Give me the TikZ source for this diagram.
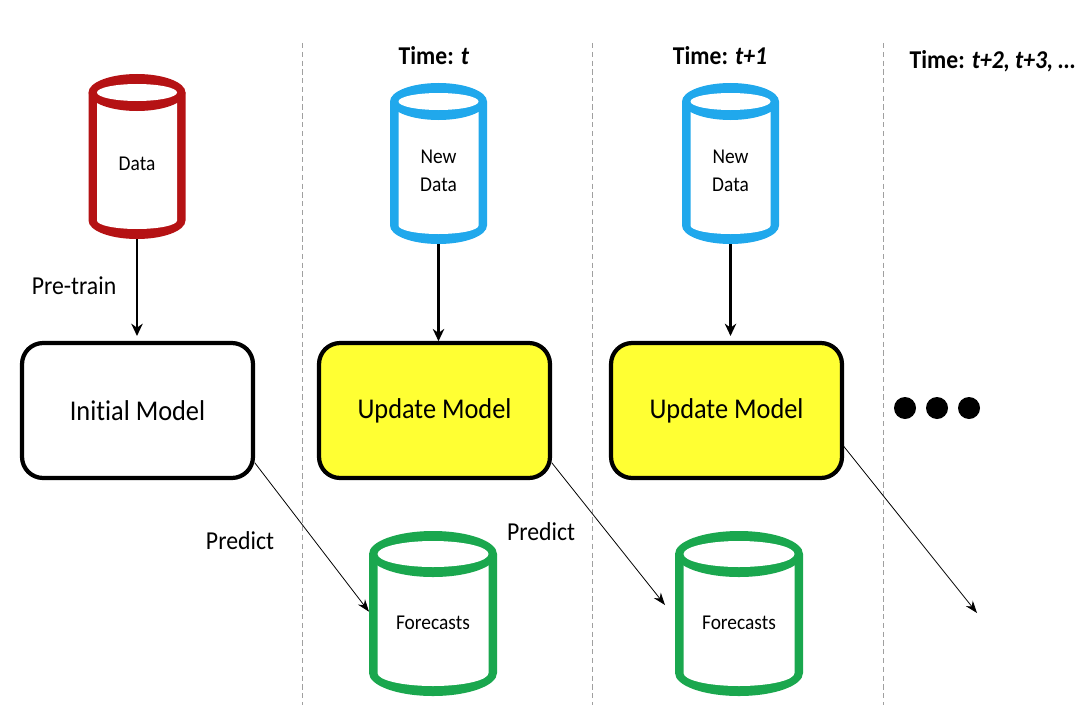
\documentclass[tikz,border=0pt]{standalone}
\usepackage{fontspec}
\setmainfont[FakeStretch=0.92,Ligatures=NoCommon]{Carlito}
\usepackage{xcolor}
\definecolor{candata}{RGB}{181,18,20}
\definecolor{cannew}{RGB}{32,168,236}
\definecolor{canfc}{RGB}{26,167,78}
\definecolor{modelyellow}{RGB}{255,255,51}
\definecolor{sepgray}{RGB}{160,160,160}
\usetikzlibrary{arrows.meta}
% name, x, y top ellipse, y bottom ellipse, rx, ry, colour, text
\newcommand{\datacan}[8]{
  \fill[#7] (#2-#5,#3) -- (#2-#5,#4) arc[start angle=180,end angle=0,x radius=#5,y radius=#6] -- (#2+#5,#3) -- cycle;
  \fill[white] (#2-#5+8.5,#3) -- (#2-#5+8.5,#4) arc[start angle=180,end angle=0,x radius={#5-8.5},y radius={#6-10}] -- (#2+#5-8.5,#3) -- cycle;
  \fill[#7] (#2,#3) ellipse[x radius=#5,y radius=#6];
  \fill[white] (#2,#3) ellipse[x radius={#5-8.5},y radius={#6-10}];
  \node[cantext,minimum width={2*#5*0.02cm},minimum height={(#4+#6+4-#3)*0.02cm}] (#1) at (#2,{(#3-4+#4+#6)/2}) {#8};
}
\tikzset{
  cantext/.style={inner sep=0pt,outer sep=0pt,align=center,font=\fontsize{12}{16}\selectfont},
  modelbox/.style={draw=black,line width=2.4pt,rounded corners=12pt,minimum width=4.62cm,minimum height=2.7cm,inner sep=0pt,outer sep=1pt,font=\fontsize{16.3}{19}\selectfont},
  steplabel/.style={inner sep=0pt,font=\fontsize{14.7}{17}\selectfont},
  timelabel/.style={inner sep=0pt,font=\fontsize{14.6}{17}\selectfont\bfseries},
  feed/.style={line width=1.6pt,-{Stealth[length=7pt,width=6.5pt]}},
  fcast/.style={line width=0.45pt,-{Stealth[length=7pt,width=5pt]}},
  septick/.style={sepgray,line width=0.5pt,dash pattern=on 3pt off 2pt},
}
\begin{document}
\begin{tikzpicture}[x=0.02cm,y=-0.02cm]
\useasboundingbox (0,0) rectangle (1077,723);
% ---- column separators ----
\draw[septick] (302,43) -- (302,705);
\draw[septick] (592,43) -- (592,705);
\draw[septick] (883,43) -- (883,705);
% ---- cans ----
\datacan{data}{137}{92.5}{220.5}{48.5}{18.5}{candata}{Data}
\datacan{newA}{438.5}{101.5}{225.5}{48.5}{18.5}{cannew}{New\\Data}
\datacan{newB}{730.5}{101.5}{225.5}{48.5}{18.5}{cannew}{New\\Data}
\datacan{fcA}{433}{554}{673}{64}{23}{canfc}{Forecasts}
\datacan{fcB}{739}{554}{673}{64}{23}{canfc}{Forecasts}
% ---- models ----
\node[modelbox] (init) at (137.5,410.5) {Initial Model};
\node[modelbox,fill=modelyellow] (updA) at (434.5,410.5) {Update Model};
\node[modelbox,fill=modelyellow] (updB) at (726.5,410.5) {Update Model};
% ---- texts ----
\node[timelabel] (timeA) at (434,56) {Time: \textit{t}};
\node[timelabel] (timeB) at (720,56) {Time: \textit{t+1}};
\node[timelabel] (timeC) at (992.5,61) {Time: \textit{t+2, t+3, …}};
\node[steplabel] (pretrain) at (74,286) {Pre-train};
\node[steplabel] (predA) at (240,541) {Predict};
\node[steplabel] (predB) at (541,532) {Predict};
% ---- dots ----
\fill (905,408) circle (11);
\fill (937,408) circle (11);
\fill (969,408) circle (11);
% ---- arrows ----
\coordinate (endB) at (665,605);
\coordinate (endC) at (977,613);
\draw[feed,shorten >=3pt] (data.south) -- (data.south |- init.north);
\draw[feed] (newA.south) -- (newA.south |- updA.north);
\draw[feed,shorten >=3pt] (newB.south) -- (newB.south |- updB.north);
\draw[fcast] (init.-24) -- (fcA.170);
\draw[fcast] (updA.-24) -- (endB);
\draw[fcast] (updB.-17) -- (endC);
\end{tikzpicture}
\end{document}
